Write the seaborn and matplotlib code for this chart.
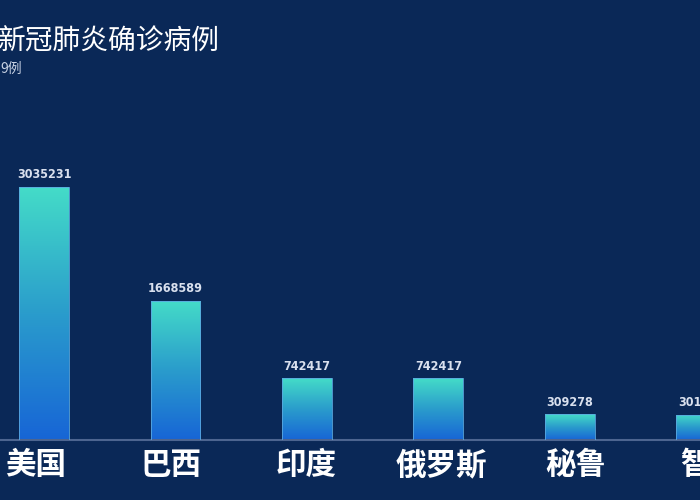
import numpy as np
import pandas as pd
import seaborn as sns
import matplotlib.pyplot as plt
from matplotlib.colors import LinearSegmentedColormap

# 数据
countries = ["美国", "巴西", "印度", "俄罗斯", "秘鲁", "智利"]
cases = [3035231, 1668589, 742417, 742417, 309278, 301019]
title = "新冠肺炎确诊病例"
subtitle = "9例"

bg = "#0a2857"
sns.set_theme(style="white")
plt.rcParams['font.family'] = ['Noto Sans CJK SC', 'DejaVu Sans']

fig = plt.figure(figsize=(7, 5), dpi=100, facecolor=bg)
ax = fig.add_axes([0, 0.12, 1, 0.88])
ax.set_facecolor(bg)

df = pd.DataFrame({"country": countries, "cases": cases})
sns.barplot(data=df, x="country", y="cases", ax=ax, width=0.38,
            color="#1a6ad8", edgecolor="#5aa8e0", linewidth=0.6)

# 渐变填充
cmap = LinearSegmentedColormap.from_list("bar", ["#1765d6", "#2a9ccc", "#44dcc8"])
grad = np.linspace(0, 1, 256).reshape(-1, 1)
for p in ax.patches:
    x0, y0 = p.get_x(), p.get_y()
    w, h = p.get_width(), p.get_height()
    im = ax.imshow(grad, cmap=cmap, origin="lower", aspect="auto",
                   extent=[x0, x0 + w, y0, y0 + h], zorder=2)
    im.set_clip_path(p)
    p.set_facecolor("none")
    p.set_zorder(3)

# 数值标签
for i, v in enumerate(cases):
    ax.annotate(str(v), (i, v), xytext=(0, 4), textcoords="offset points",
                ha="center", va="bottom", fontsize=9, fontweight="bold",
                color="#d9e0ee", family="DejaVu Sans",
                fontstretch="condensed", zorder=4, annotation_clip=False)

# 国家标签(间距略大于柱子)
for i, name in enumerate(countries):
    ax.annotate(name, (i * 135 / 131.5 - 8 / 131.5, 0),
                xycoords=("data", "axes fraction"), xytext=(0, -18),
                textcoords="offset points", ha="center", va="center",
                fontsize=22, fontweight="bold", color="white",
                annotation_clip=False)

ax.set_xticks([])
ax.set_yticks([])
ax.set_xlabel("")
ax.set_ylabel("")
ax.set_xlim(-0.335, 4.99)
ax.set_ylim(0, max(cases) * 440 / 253)

for s in ["top", "left", "right"]:
    ax.spines[s].set_visible(False)
ax.spines["bottom"].set_color("#4d6590")
ax.spines["bottom"].set_linewidth(1.5)

fig.text(-0.003, 0.916, title, fontsize=20, fontweight="medium", color="white",
         va="center", ha="left")
fig.text(0.0, 0.862, subtitle, fontsize=10, color="#c8d2e4", va="center", ha="left")

fig.savefig("out.png", dpi=100, facecolor=bg)
